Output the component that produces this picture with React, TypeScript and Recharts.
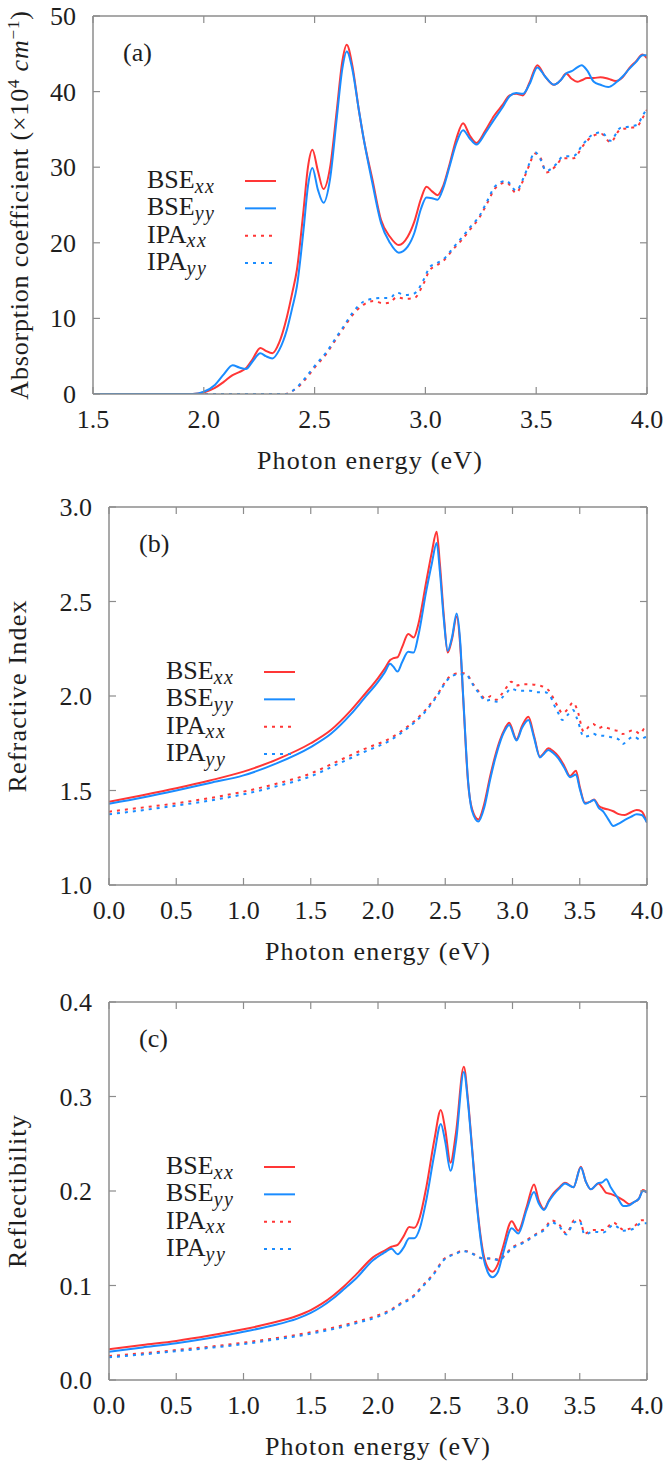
import React from 'react';
import { LineChart, Line, XAxis, YAxis, Legend } from 'recharts';

const RED = '#ff3636';
const BLUE = '#1a8cff';
const FRAME = '#8c8c8c';
const TXT = '#1e1e1e';
const FONT = '"Liberation Serif", "Times New Roman", serif';
const DASH = '3 5';
const TICK_LEN = 7;

// ---------- Panel (a): absorption coefficient ----------
const absXTicks = [1.5, 2.0, 2.5, 3.0, 3.5, 4.0];
const absYTicks = [0, 10, 20, 30, 40, 50];
const absBseE = [1.5, 1.95, 2.0, 2.05, 2.09, 2.13, 2.16, 2.19, 2.22, 2.255, 2.28, 2.31, 2.34, 2.375, 2.4, 2.42, 2.45, 2.47, 2.49, 2.515, 2.54, 2.57, 2.6, 2.625, 2.645, 2.67, 2.7, 2.72, 2.76, 2.8, 2.84, 2.88, 2.92, 2.95, 2.98, 3.005, 3.03, 3.055, 3.08, 3.11, 3.14, 3.17, 3.2, 3.23, 3.27, 3.31, 3.35, 3.38, 3.41, 3.44, 3.47, 3.505, 3.54, 3.58, 3.61, 3.635, 3.66, 3.685, 3.705, 3.73, 3.76, 3.79, 3.825, 3.86, 3.89, 3.92, 3.95, 3.98, 4.0];
const absBseXx = [0, 0, 0.2, 0.8, 1.6, 2.5, 2.9, 3.4, 4.6, 6.1, 5.7, 5.4, 6.8, 10.2, 13.5, 16.4, 24.3, 30, 32.3, 29.5, 27.1, 30, 37.5, 44, 46.2, 43.5, 37.5, 34, 28.5, 23, 20.8, 19.7, 20.8, 22.8, 25.8, 27.4, 26.8, 26.3, 27.5, 30.5, 33.8, 35.8, 34.2, 33.2, 34.8, 36.8, 38.3, 39.5, 39.7, 39.5, 41.2, 43.5, 42, 40.9, 41.5, 42.4, 41.7, 41.3, 41.5, 41.8, 41.8, 41.9, 41.7, 41.4, 41.9, 43.1, 44, 44.9, 44.4];
const absBseYy = [0, 0, 0.3, 1.2, 2.6, 3.8, 3.5, 3.3, 4.3, 5.4, 5.0, 4.7, 5.8, 8.5, 11.5, 14.2, 21.7, 27.5, 29.9, 27, 25.3, 28.5, 36.5, 43, 45.3, 43, 37.5, 34, 28, 22.6, 20, 18.7, 19.5, 21.3, 24.5, 26, 25.9, 25.7, 27.2, 30.2, 33.2, 34.9, 33.8, 33.0, 34.5, 36.3, 38.0, 39.4, 39.8, 39.7, 41.0, 43.2, 42, 40.9, 41.5, 42.4, 42.7, 43.2, 43.5, 42.8, 41.3, 40.9, 40.6, 41.2, 42.0, 43.0, 43.9, 44.8, 44.8];
const absIpaE = [1.5, 2.37, 2.4, 2.42, 2.46, 2.5, 2.555, 2.6, 2.63, 2.67, 2.72, 2.765, 2.81, 2.84, 2.87, 2.91, 2.95, 2.99, 3.02, 3.05, 3.08, 3.13, 3.165, 3.2, 3.245, 3.28, 3.315, 3.365, 3.41, 3.44, 3.465, 3.495, 3.52, 3.545, 3.59, 3.62, 3.67, 3.71, 3.76, 3.795, 3.835, 3.88, 3.925, 3.955, 3.98, 4.0];
const absIpaXx = [0, 0, 0.4, 0.8, 2.0, 3.5, 5.4, 7.4, 8.7, 10.4, 11.8, 12.3, 12.0, 12.1, 12.8, 12.6, 12.7, 14.5, 16.4, 17.0, 17.6, 19.3, 20.4, 21.7, 23.4, 25.3, 27.2, 28.0, 26.6, 28.2, 30.0, 31.8, 31.2, 29.3, 30.2, 31.2, 31.2, 32.8, 34.2, 34.4, 33.3, 35.0, 35.2, 35.4, 36.5, 37.6];
const absIpaYy = [0, 0, 0.4, 0.9, 2.2, 3.7, 5.6, 7.6, 8.9, 10.7, 12.2, 12.6, 12.7, 12.7, 13.4, 13.1, 13.3, 15.0, 16.8, 17.3, 17.8, 19.5, 20.7, 22.0, 23.6, 25.6, 27.5, 28.2, 26.9, 28.4, 30.2, 32.0, 31.0, 29.5, 30.4, 31.4, 31.5, 33.0, 34.4, 34.6, 33.5, 35.2, 35.4, 35.6, 36.8, 37.8];

// ---------- Panel (b): refractive index ----------
const refXTicks = [0, 0.5, 1.0, 1.5, 2.0, 2.5, 3.0, 3.5, 4.0];
const refYTicks = [1.0, 1.5, 2.0, 2.5, 3.0];
const refBseE = [0, 0.25, 0.5, 0.75, 1.0, 1.25, 1.5, 1.65, 1.8, 1.9, 2.0, 2.05, 2.09, 2.115, 2.145, 2.18, 2.225, 2.265, 2.3, 2.36, 2.4, 2.436, 2.46, 2.49, 2.518, 2.55, 2.585, 2.61, 2.634, 2.67, 2.7, 2.746, 2.79, 2.833, 2.87, 2.907, 2.945, 2.975, 3.03, 3.07, 3.118, 3.16, 3.204, 3.235, 3.266, 3.3, 3.341, 3.385, 3.428, 3.472, 3.5, 3.539, 3.575, 3.606, 3.64, 3.675, 3.71, 3.75, 3.79, 3.836, 3.88, 3.923, 3.96, 4.0];
const refBseXx = [1.44, 1.475, 1.512, 1.553, 1.6, 1.665, 1.75, 1.82, 1.925, 2.008, 2.095, 2.145, 2.19, 2.2, 2.205, 2.26, 2.328, 2.31, 2.38, 2.61, 2.76, 2.869, 2.7, 2.42, 2.23, 2.3, 2.42, 2.28, 1.98, 1.54, 1.4, 1.347, 1.43, 1.573, 1.68, 1.767, 1.83, 1.859, 1.771, 1.84, 1.89, 1.79, 1.679, 1.7, 1.723, 1.71, 1.68, 1.63, 1.577, 1.605, 1.52, 1.435, 1.44, 1.453, 1.42, 1.406, 1.4, 1.39, 1.375, 1.37, 1.385, 1.397, 1.39, 1.33];
const refBseYy = [1.43, 1.463, 1.5, 1.54, 1.58, 1.645, 1.73, 1.8, 1.905, 1.99, 2.075, 2.125, 2.17, 2.155, 2.129, 2.18, 2.234, 2.23, 2.32, 2.56, 2.7, 2.81, 2.66, 2.4, 2.24, 2.31, 2.437, 2.3, 1.99, 1.55, 1.39, 1.336, 1.41, 1.555, 1.665, 1.755, 1.82, 1.847, 1.765, 1.83, 1.873, 1.78, 1.675, 1.695, 1.714, 1.7, 1.67, 1.62, 1.57, 1.584, 1.51, 1.43, 1.44, 1.45, 1.41, 1.388, 1.35, 1.312, 1.325, 1.344, 1.36, 1.374, 1.37, 1.33];
const refIpaE = [0, 0.25, 0.5, 0.75, 1.0, 1.25, 1.5, 1.7, 1.9, 2.09, 2.22, 2.33, 2.43, 2.53, 2.6, 2.65, 2.71, 2.75, 2.8, 2.84, 2.88, 2.92, 2.96, 2.99, 3.03, 3.08, 3.13, 3.18, 3.24, 3.28, 3.31, 3.34, 3.37, 3.41, 3.45, 3.48, 3.53, 3.57, 3.6, 3.64, 3.675, 3.71, 3.75, 3.79, 3.82, 3.86, 3.9, 3.95, 3.98, 4.0];
const refIpaXx = [1.388, 1.41, 1.432, 1.46, 1.494, 1.537, 1.59, 1.655, 1.72, 1.776, 1.838, 1.908, 1.996, 2.1, 2.12, 2.12, 2.06, 2.023, 1.985, 2.0, 1.98, 2.01, 2.05, 2.076, 2.055, 2.062, 2.062, 2.058, 2.045, 2.02, 1.979, 1.94, 1.908, 1.93, 1.965, 1.93, 1.811, 1.84, 1.852, 1.83, 1.838, 1.83, 1.82, 1.815, 1.799, 1.81, 1.82, 1.8, 1.83, 1.84];
const refIpaYy = [1.374, 1.396, 1.42, 1.447, 1.48, 1.523, 1.575, 1.64, 1.705, 1.765, 1.83, 1.9, 1.99, 2.095, 2.115, 2.115, 2.055, 2.015, 1.975, 1.98, 1.97, 1.99, 2.02, 2.04, 2.03, 2.028, 2.028, 2.02, 2.02, 2.0, 1.952, 1.91, 1.873, 1.9, 1.926, 1.88, 1.785, 1.79, 1.8, 1.79, 1.79, 1.785, 1.78, 1.77, 1.746, 1.77, 1.785, 1.77, 1.78, 1.785];

// ---------- Panel (c): reflectibility ----------
const rflXTicks = [0, 0.5, 1.0, 1.5, 2.0, 2.5, 3.0, 3.5, 4.0];
const rflYTicks = [0, 0.1, 0.2, 0.3, 0.4];
const rflBseE = [0, 0.25, 0.5, 0.75, 1.0, 1.2, 1.4, 1.5, 1.58, 1.668, 1.75, 1.84, 1.965, 2.05, 2.1, 2.146, 2.19, 2.232, 2.27, 2.31, 2.36, 2.42, 2.467, 2.5, 2.539, 2.58, 2.638, 2.67, 2.7, 2.733, 2.783, 2.82, 2.85, 2.89, 2.93, 2.994, 3.043, 3.105, 3.16, 3.195, 3.234, 3.27, 3.304, 3.35, 3.39, 3.453, 3.508, 3.545, 3.582, 3.64, 3.665, 3.697, 3.73, 3.777, 3.826, 3.87, 3.9, 3.94, 3.97, 4.0];
const rflBseXx = [0.0325, 0.037, 0.0413, 0.047, 0.0536, 0.06, 0.068, 0.074, 0.0805, 0.0895, 0.0995, 0.112, 0.13, 0.137, 0.141, 0.143, 0.152, 0.162, 0.161, 0.172, 0.2046, 0.255, 0.2857, 0.265, 0.23, 0.262, 0.3316, 0.295, 0.245, 0.19, 0.134, 0.118, 0.1146, 0.122, 0.141, 0.168, 0.158, 0.183, 0.207, 0.19, 0.181, 0.19, 0.1975, 0.204, 0.2088, 0.204, 0.2257, 0.21, 0.2018, 0.208, 0.204, 0.198, 0.197, 0.194, 0.19, 0.186, 0.188, 0.192, 0.201, 0.198];
const rflBseYy = [0.03, 0.0345, 0.039, 0.0445, 0.051, 0.0572, 0.065, 0.071, 0.0775, 0.0865, 0.0965, 0.108, 0.127, 0.135, 0.139, 0.133, 0.14, 0.15, 0.15, 0.16, 0.191, 0.24, 0.271, 0.252, 0.2215, 0.252, 0.326, 0.292, 0.243, 0.188, 0.13, 0.113, 0.1087, 0.114, 0.134, 0.1605, 0.155, 0.18, 0.199, 0.187, 0.18, 0.189, 0.196, 0.203, 0.208, 0.204, 0.225, 0.21, 0.2018, 0.2086, 0.209, 0.2124, 0.204, 0.194, 0.184, 0.185, 0.188, 0.192, 0.2, 0.199];
const rflIpaE = [0, 0.25, 0.5, 0.75, 1.0, 1.25, 1.5, 1.7, 1.86, 2.0, 2.09, 2.16, 2.27, 2.32, 2.41, 2.49, 2.578, 2.628, 2.68, 2.727, 2.78, 2.845, 2.907, 2.94, 3.006, 3.08, 3.18, 3.24, 3.29, 3.35, 3.4, 3.46, 3.5, 3.536, 3.6, 3.675, 3.75, 3.826, 3.9, 3.96, 4.0];
const rflIpaXx = [0.0254, 0.0283, 0.0317, 0.0352, 0.0395, 0.0445, 0.0505, 0.0565, 0.0625, 0.0685, 0.074, 0.0804, 0.09, 0.098, 0.112, 0.128, 0.134, 0.1368, 0.1355, 0.132, 0.1287, 0.1287, 0.127, 0.132, 0.141, 0.146, 0.155, 0.1605, 0.169, 0.164, 0.155, 0.169, 0.169, 0.155, 0.1587, 0.1587, 0.1665, 0.159, 0.162, 0.169, 0.169];
const rflIpaYy = [0.024, 0.027, 0.0305, 0.034, 0.038, 0.0432, 0.049, 0.055, 0.061, 0.067, 0.073, 0.0795, 0.089, 0.097, 0.111, 0.127, 0.1335, 0.1365, 0.135, 0.1318, 0.1285, 0.1285, 0.1265, 0.1315, 0.14, 0.145, 0.154, 0.159, 0.167, 0.162, 0.154, 0.167, 0.168, 0.154, 0.157, 0.156, 0.164, 0.158, 0.16, 0.166, 0.166];

const seriesNames = ['BSE_xx', 'BSE_yy', 'IPA_xx', 'IPA_yy'];

const rows = (e: number[], v: number[]) => e.map((x, i) => ({ e: x, v: v[i] }));

type SeriesDef = { data: { e: number; v: number }[]; name: string; color: string; dashed: boolean };

const textStyle = { fontFamily: FONT } as React.CSSProperties;

const bottomTick = (digits: number) => (p: any) => (
  <g>
    <line x1={p.x} x2={p.x} y1={p.y} y2={p.y - TICK_LEN} stroke={FRAME} strokeWidth={1.2} />
    <text x={p.x} y={p.y + 34} textAnchor="middle" fontSize={26} fill={TXT} style={textStyle}>
      {Number(p.payload.value).toFixed(digits)}
    </text>
  </g>
);
const topTick = (p: any) => (
  <line x1={p.x} x2={p.x} y1={p.y} y2={p.y + TICK_LEN} stroke={FRAME} strokeWidth={1.2} />
);
const leftTick = (digits: number) => (p: any) => (
  <g>
    <line x1={p.x} x2={p.x + TICK_LEN} y1={p.y} y2={p.y} stroke={FRAME} strokeWidth={1.2} />
    <text x={p.x - 17} y={p.y + 9} textAnchor="end" fontSize={26} fill={TXT} style={textStyle}>
      {Number(p.payload.value).toFixed(digits)}
    </text>
  </g>
);
const rightTick = (p: any) => (
  <line x1={p.x} x2={p.x - TICK_LEN} y1={p.y} y2={p.y} stroke={FRAME} strokeWidth={1.2} />
);

const legendContent = (p: any) => {
  const items = p.payload || [];
  return (
    <svg width={150} height={115} style={{ overflow: 'visible', display: 'block' }}>
      {items.map((it: any, i: number) => {
        const [base, sub] = String(it.value).split('_');
        const cy = 13 + i * 27.35;
        const dash = it.payload?.strokeDasharray ?? (base === 'IPA' ? DASH : undefined);
        return (
          <g key={i}>
            <text x={0} y={cy + 7} fontSize={26} fill={TXT} style={textStyle}>
              {base}
              <tspan dy={4.5} fontSize={20} fontStyle="italic" letterSpacing={1.5}>{sub}</tspan>
            </text>
            <line x1={98} x2={129} y1={cy} y2={cy} stroke={it.color} strokeWidth={2} strokeDasharray={dash} />
          </g>
        );
      })}
    </svg>
  );
};

type PanelProps = {
  height: number;
  marginTop: number;
  xAxisHeight: number;
  yAxisWidth: number;
  xDomain: [number, number];
  xTicks: number[];
  yDomain: [number, number];
  yTicks: number[];
  yDigits: number;
  series: SeriesDef[];
  yTitle: React.ReactNode;
  yTitleX: number;
  yTitleSpacing: number;
  letter: string;
  legendLeft: number;
  legendTop: number;
};

function Panel(props: PanelProps) {
  const { height, marginTop, xAxisHeight, yAxisWidth, xDomain, xTicks, yDomain, yTicks, yDigits, series, yTitle, yTitleX, yTitleSpacing, letter, legendLeft, legendTop } = props;
  return (
    <LineChart width={663} height={height} margin={{ top: marginTop, right: 6, bottom: 6, left: 13 }}>
      <XAxis
        dataKey="e"
        type="number"
        domain={xDomain}
        ticks={xTicks}
        interval={0}
        allowDataOverflow
        height={xAxisHeight}
        tickSize={0}
        tickMargin={0}
        tickLine={false}
        axisLine={{ stroke: FRAME, strokeWidth: 1.5 }}
        tick={bottomTick(1)}
        label={(lp: any) => {
          const vb = lp.viewBox || {};
          return (
            <text x={vb.x + vb.width / 2} y={vb.y + 75} textAnchor="middle" fontSize={26} letterSpacing={1.2} fill={TXT} style={textStyle}>
              Photon energy (eV)
            </text>
          );
        }}
      />
      <XAxis
        xAxisId="top"
        orientation="top"
        dataKey="e"
        type="number"
        domain={xDomain}
        ticks={xTicks}
        interval={0}
        allowDataOverflow
        height={10}
        tickSize={0}
        tickMargin={0}
        tickLine={false}
        axisLine={{ stroke: FRAME, strokeWidth: 1.5 }}
        tick={topTick}
        label={(lp: any) => {
          const vb = lp.viewBox || {};
          return (
            <text x={vb.x + 30} y={vb.y + vb.height + 45} fontSize={26} fill={TXT} style={textStyle}>
              {letter}
            </text>
          );
        }}
      />
      <YAxis
        type="number"
        domain={yDomain}
        ticks={yTicks}
        interval={0}
        allowDataOverflow
        width={yAxisWidth}
        tickSize={0}
        tickMargin={0}
        tickLine={false}
        axisLine={{ stroke: FRAME, strokeWidth: 1.5 }}
        tick={leftTick(yDigits)}
        label={(lp: any) => {
          const vb = lp.viewBox || {};
          const cx = yTitleX;
          const cy = vb.y + vb.height / 2;
          return (
            <text x={cx} y={cy} textAnchor="middle" fontSize={26} letterSpacing={yTitleSpacing} fill={TXT} transform={`rotate(-90, ${cx}, ${cy})`} style={textStyle}>
              {yTitle}
            </text>
          );
        }}
      />
      <YAxis
        yAxisId="right"
        orientation="right"
        type="number"
        domain={yDomain}
        ticks={yTicks}
        interval={0}
        allowDataOverflow
        width={10}
        tickSize={0}
        tickMargin={0}
        tickLine={false}
        axisLine={{ stroke: FRAME, strokeWidth: 1.5 }}
        tick={rightTick}
      />
      <Legend
        layout="vertical"
        verticalAlign="middle"
        align="center"
        wrapperStyle={{ left: legendLeft, top: legendTop, width: 150, height: 115 }}
        content={legendContent}
      />
      {series.map((s) => (
        <Line
          key={s.name}
          data={s.data}
          dataKey="v"
          name={s.name}
          type="monotone"
          stroke={s.color}
          strokeWidth={2}
          strokeDasharray={s.dashed ? DASH : undefined}
          dot={false}
          activeDot={false}
          isAnimationActive={false}
        />
      ))}
    </LineChart>
  );
}

const makeSeries = (bE: number[], bX: number[], bY: number[], iE: number[], iX: number[], iY: number[]): SeriesDef[] => [
  { data: rows(bE, bX), name: seriesNames[0], color: RED, dashed: false },
  { data: rows(bE, bY), name: seriesNames[1], color: BLUE, dashed: false },
  { data: rows(iE, iX), name: seriesNames[2], color: RED, dashed: true },
  { data: rows(iE, iY), name: seriesNames[3], color: BLUE, dashed: true },
];

const absTitle = (
  <>
    Absorption coefficient (×10
    <tspan dy={-9} fontSize={17}>4</tspan>
    <tspan dy={9}> </tspan>
    <tspan fontStyle="italic">cm</tspan>
    <tspan dy={-9} fontSize={17}>−1</tspan>
    <tspan dy={9}>)</tspan>
  </>
);

export default function App() {
  return (
    <div style={{ position: 'absolute', left: 0, top: 0, width: 663, height: 1463, background: '#ffffff' }}>
      <div style={{ position: 'absolute', left: 0, top: 0 }}>
        <Panel
          height={480}
          marginTop={6}
          xAxisHeight={80}
          yAxisWidth={80}
          xDomain={[1.5, 4.0]}
          xTicks={absXTicks}
          yDomain={[0, 50]}
          yTicks={absYTicks}
          yDigits={0}
          series={makeSeries(absBseE, absBseXx, absBseYy, absIpaE, absIpaXx, absIpaYy)}
          yTitle={absTitle}
          yTitleX={28}
          yTitleSpacing={0.8}
          letter="(a)"
          legendLeft={147}
          legendTop={168}
        />
      </div>
      <div style={{ position: 'absolute', left: 0, top: 480 }}>
        <Panel
          height={495}
          marginTop={17}
          xAxisHeight={84}
          yAxisWidth={96}
          xDomain={[0, 4.0]}
          xTicks={refXTicks}
          yDomain={[1.0, 3.0]}
          yTicks={refYTicks}
          yDigits={1}
          series={makeSeries(refBseE, refBseXx, refBseYy, refIpaE, refIpaXx, refIpaYy)}
          yTitle="Refractive Index"
          yTitleX={26}
          yTitleSpacing={1.2}
          letter="(b)"
          legendLeft={166}
          legendTop={179}
        />
      </div>
      <div style={{ position: 'absolute', left: 0, top: 975 }}>
        <Panel
          height={488}
          marginTop={17}
          xAxisHeight={77}
          yAxisWidth={96}
          xDomain={[0, 4.0]}
          xTicks={rflXTicks}
          yDomain={[0, 0.4]}
          yTicks={rflYTicks}
          yDigits={1}
          series={makeSeries(rflBseE, rflBseXx, rflBseYy, rflIpaE, rflIpaXx, rflIpaYy)}
          yTitle="Reflectibility"
          yTitleX={26}
          yTitleSpacing={1.2}
          letter="(c)"
          legendLeft={166}
          legendTop={179}
        />
      </div>
    </div>
  );
}
